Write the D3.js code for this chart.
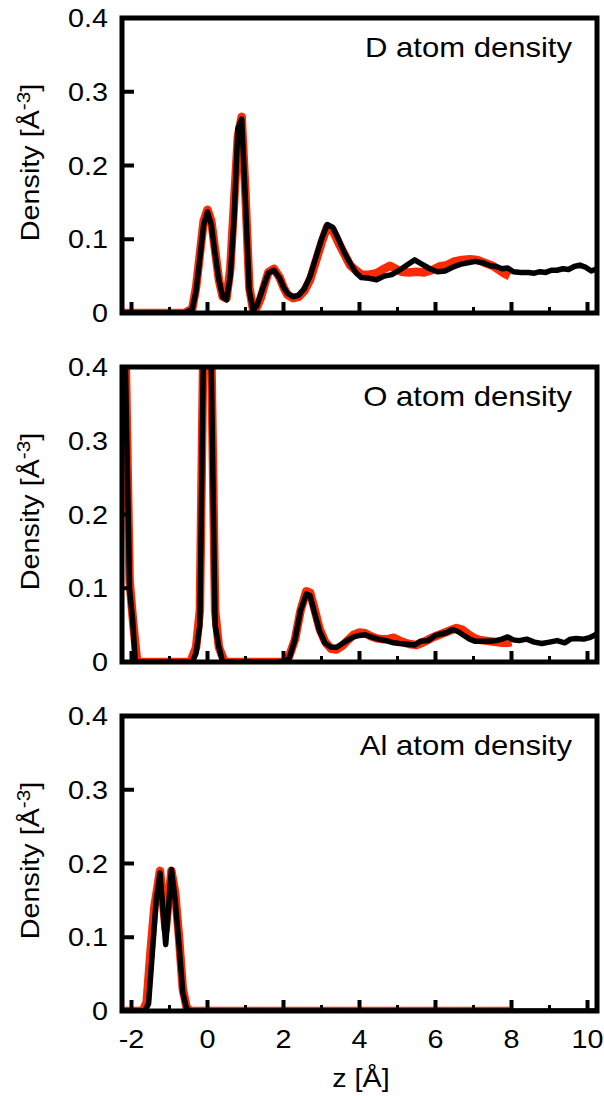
<!DOCTYPE html>
<html lang="en">
<head>
<meta charset="UTF-8">
<title>Atom density</title>
<script src="https://cdn.jsdelivr.net/npm/d3@7"></script>
<style>
    body { margin: 0; background: #fff; }
    text { font-family: "Liberation Sans", Arial, sans-serif; fill: #000; }
</style>
</head>
<body>
<script>
// panel titles
var titles = ["D atom density", "O atom density", "Al atom density"];
var xTicks = [-2, 0, 2, 4, 6, 8, 10];
var xMinor = [-1, 1, 3, 5, 7, 9];
var yTicks = [0, 0.1, 0.2, 0.3, 0.4];
var yTickLabels = ["0", "0.1", "0.2", "0.3", "0.4"];

// D density, [z, rho]
var dBlack = [[-2.25,0],[-0.6,0],[-0.4,0.005],[-0.3,0.03],[-0.2,0.075],[-0.1,0.12],[0,0.137],[0.1,0.12],[0.2,0.08],[0.3,0.045],[0.4,0.022],[0.5,0.018],[0.6,0.05],[0.7,0.13],[0.8,0.25],[0.9,0.263],[1.0,0.15],[1.1,0.03],[1.2,0.004],[1.3,0.01],[1.4,0.025],[1.5,0.04],[1.6,0.054],[1.75,0.058],[1.9,0.047],[2.0,0.035],[2.1,0.027],[2.25,0.022],[2.4,0.024],[2.55,0.033],[2.7,0.05],[2.85,0.075],[3.0,0.1],[3.15,0.12],[3.3,0.116],[3.45,0.1],[3.6,0.082],[3.75,0.068],[3.9,0.055],[4.05,0.048],[4.25,0.047],[4.45,0.045],[4.65,0.05],[4.85,0.052],[5.05,0.058],[5.25,0.065],[5.45,0.072],[5.65,0.066],[5.85,0.06],[6.05,0.056],[6.25,0.057],[6.45,0.062],[6.65,0.066],[6.85,0.068],[7.05,0.07],[7.25,0.068],[7.45,0.064],[7.6,0.063],[7.75,0.06],[7.9,0.061],[8.05,0.056],[8.25,0.055],[8.45,0.055],[8.6,0.054],[8.75,0.056],[8.9,0.055],[9.05,0.058],[9.2,0.058],[9.35,0.06],[9.5,0.059],[9.65,0.063],[9.8,0.065],[9.95,0.062],[10.1,0.057],[10.25,0.06]];
var dRed = [[-2.25,0],[-0.6,0],[-0.4,0.006],[-0.3,0.035],[-0.2,0.08],[-0.1,0.125],[0,0.14],[0.1,0.125],[0.2,0.085],[0.3,0.045],[0.4,0.022],[0.5,0.02],[0.6,0.06],[0.7,0.15],[0.8,0.24],[0.9,0.266],[1.0,0.16],[1.1,0.035],[1.2,0.004],[1.3,0.008],[1.4,0.02],[1.5,0.038],[1.6,0.055],[1.75,0.06],[1.9,0.048],[2.0,0.035],[2.1,0.025],[2.25,0.02],[2.4,0.022],[2.55,0.03],[2.7,0.045],[2.85,0.07],[3.0,0.095],[3.15,0.117],[3.3,0.112],[3.45,0.095],[3.6,0.08],[3.75,0.065],[3.9,0.058],[4.05,0.052],[4.25,0.052],[4.45,0.054],[4.65,0.06],[4.8,0.064],[4.95,0.06],[5.1,0.056],[5.3,0.055],[5.5,0.056],[5.7,0.055],[5.9,0.058],[6.1,0.063],[6.3,0.065],[6.5,0.07],[6.7,0.072],[6.9,0.073],[7.1,0.072],[7.3,0.068],[7.5,0.064],[7.65,0.059],[7.8,0.054],[7.95,0.05]];

// O density
var oBlack = [[-2.25,0.65],[-2.05,0.098],[-1.97,0.057],[-1.9,0],[-0.4,0],[-0.3,0.012],[-0.2,0.05],[-0.1,0.45],[0,0.95],[0.1,0.4],[0.2,0.05],[0.3,0.02],[0.4,0],[2.05,0],[2.15,0.005],[2.3,0.03],[2.45,0.07],[2.6,0.092],[2.7,0.09],[2.8,0.07],[2.95,0.042],[3.1,0.025],[3.25,0.02],[3.4,0.02],[3.55,0.025],[3.7,0.03],[3.85,0.034],[4.0,0.036],[4.15,0.037],[4.3,0.034],[4.5,0.031],[4.7,0.029],[4.9,0.026],[5.05,0.025],[5.25,0.024],[5.45,0.023],[5.6,0.028],[5.8,0.029],[6.0,0.036],[6.15,0.038],[6.3,0.04],[6.45,0.044],[6.6,0.041],[6.75,0.036],[6.9,0.031],[7.05,0.028],[7.25,0.028],[7.45,0.028],[7.6,0.029],[7.75,0.031],[7.9,0.034],[8.05,0.03],[8.2,0.029],[8.4,0.031],[8.6,0.027],[8.8,0.025],[9.0,0.027],[9.2,0.029],[9.4,0.026],[9.55,0.031],[9.7,0.032],[9.9,0.031],[10.05,0.033],[10.25,0.038]];
var oRed = [[-2.25,0.7],[-2.05,0.11],[-1.95,0.05],[-1.85,0],[-0.45,0],[-0.3,0.02],[-0.2,0.07],[-0.1,0.47],[0,0.95],[0.1,0.42],[0.2,0.07],[0.3,0.02],[0.45,0],[2.05,0],[2.15,0.008],[2.3,0.03],[2.45,0.07],[2.6,0.096],[2.7,0.094],[2.8,0.075],[2.95,0.045],[3.1,0.027],[3.25,0.018],[3.4,0.017],[3.55,0.022],[3.7,0.03],[3.85,0.037],[4.0,0.04],[4.15,0.039],[4.3,0.035],[4.45,0.032],[4.6,0.031],[4.75,0.031],[4.9,0.033],[5.05,0.029],[5.2,0.026],[5.35,0.024],[5.5,0.023],[5.65,0.026],[5.8,0.03],[5.95,0.034],[6.1,0.037],[6.25,0.04],[6.4,0.043],[6.55,0.046],[6.7,0.044],[6.85,0.038],[7.0,0.033],[7.15,0.03],[7.3,0.029],[7.45,0.028],[7.6,0.027],[7.75,0.026],[7.9,0.026],[8.0,0.027]];

// Al density
var alBlack = [[-2.25,0],[-1.65,0],[-1.55,0.01],[-1.45,0.08],[-1.35,0.15],[-1.25,0.187],[-1.1,0.09],[-0.95,0.192],[-0.85,0.15],[-0.75,0.09],[-0.65,0.025],[-0.55,0.003],[-0.45,0],[10.25,0]];
var alRed = [[-2.25,0],[-1.7,0],[-1.6,0.012],[-1.5,0.08],[-1.4,0.14],[-1.25,0.19],[-1.1,0.11],[-0.95,0.19],[-0.85,0.16],[-0.75,0.1],[-0.65,0.03],[-0.55,0.005],[-0.45,0],[8,0]];

var panels = [
  {title: titles[0], red: dRed, black: dBlack, yTickLen: 12},
  {title: titles[1], red: oRed, black: oBlack, yTickLen: 5},
  {title: titles[2], red: alRed, black: alBlack, yTickLen: 12}
];

var width = 604, height = 1096;
var left = 122, right = 597, ph = 295;
var tops = [18, 367, 716];
var fs = 25, stretch = 1.15;   // the original font runs a little wide

var svg = d3.select("body").append("svg")
  .attr("width", width)
  .attr("height", height);

var x = d3.scaleLinear().domain([-2.25, 10.25]).range([left, right]);

// text drawn at (tx,ty), widened along its own baseline
function label(sel, tx, ty, anchor, size, rot){
  return sel.append("text")
    .attr("transform", "translate(" + tx + "," + ty + ")" + (rot ? " rotate(" + rot + ")" : "") + " scale(" + stretch + ",1)")
    .attr("text-anchor", anchor)
    .style("font-size", size + "px");
}

panels.forEach(function(p, i){
  var top = tops[i], bottom = top + ph;
  var y = d3.scaleLinear().domain([0, 0.4]).range([bottom, top]);
  var g = svg.append("g");

  g.append("clipPath").attr("id", "clip" + i)
    .append("rect")
    .attr("x", left).attr("y", top)
    .attr("width", right - left).attr("height", ph);

  var line = d3.line()
    .x(function(d){ return x(d[0]); })
    .y(function(d){ return y(d[1]); });

  var plot = g.append("g").attr("clip-path", "url(#clip" + i + ")");
  plot.append("path").datum(p.red)
    .attr("d", line)
    .attr("fill", "none")
    .attr("stroke", "#ff2a00")
    .attr("stroke-width", 8.5)
    .attr("stroke-linejoin", "round");
  plot.append("path").datum(p.black)
    .attr("d", line)
    .attr("fill", "none")
    .attr("stroke", "#000")
    .attr("stroke-width", 5.5)
    .attr("stroke-linejoin", "round");

  // bottom ticks, inward
  g.selectAll(".xmaj").data(xTicks).enter().append("line")
    .attr("x1", function(d){ return x(d); })
    .attr("x2", function(d){ return x(d); })
    .attr("y1", bottom).attr("y2", bottom - 11)
    .attr("stroke", "#000").attr("stroke-width", 4);
  g.selectAll(".xmin").data(xMinor).enter().append("line")
    .attr("x1", function(d){ return x(d); })
    .attr("x2", function(d){ return x(d); })
    .attr("y1", bottom).attr("y2", bottom - 6)
    .attr("stroke", "#000").attr("stroke-width", 3);

  // left ticks, inward
  g.selectAll(".ytk").data(yTicks.slice(1, 4)).enter().append("line")
    .attr("x1", left).attr("x2", left + p.yTickLen)
    .attr("y1", function(d){ return y(d); })
    .attr("y2", function(d){ return y(d); })
    .attr("stroke", "#000").attr("stroke-width", 4);

  g.append("rect")
    .attr("x", left).attr("y", top)
    .attr("width", right - left).attr("height", ph)
    .attr("fill", "none").attr("stroke", "#000").attr("stroke-width", 5);

  yTicks.forEach(function(d, j){
    label(g, 108, y(d) + 9, "end", fs).text(yTickLabels[j]);
  });

  label(g, 572, top + 39, "end", 27).text(p.title);

  var yl = label(g, 39, top + ph / 2 - 3, "middle", fs, -90);
  yl.append("tspan").text("Density [Å");
  yl.append("tspan").attr("dy", -9).style("font-size", "18px").text("-3");
  yl.append("tspan").attr("dy", 9).text("]");
});

// x tick labels under the last panel
var lastBottom = tops[2] + ph;
xTicks.forEach(function(d){
  label(svg, x(d), lastBottom + 37, "middle", fs).text(d);
});

label(svg, 361, lastBottom + 76, "middle", fs).text("z [Å]");
</script>
</body>
</html>
